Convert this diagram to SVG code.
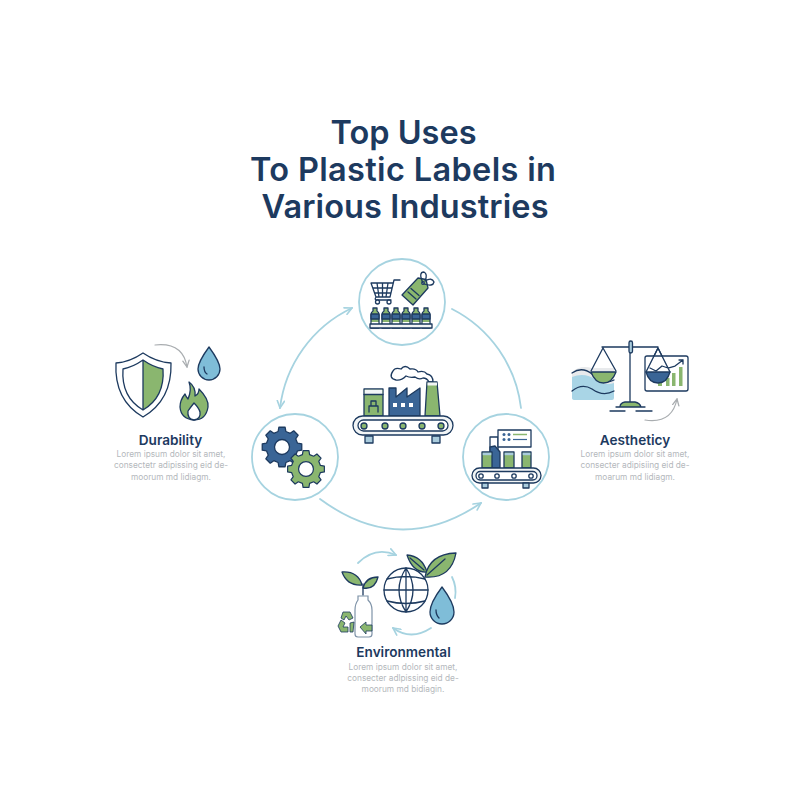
<svg xmlns="http://www.w3.org/2000/svg" width="800" height="800" viewBox="0 0 800 800">
<style>
.t{font-family:"Inter","Liberation Sans",sans-serif;font-weight:600;fill:#1d3a5f;text-anchor:middle}
.title{font-size:32.500px}
.h{font-size:13.600px}
.b{font-family:"Inter","Liberation Sans",sans-serif;font-size:8.300px;fill:#b4b8bc;text-anchor:middle}
.ring{fill:#fff;stroke:#a6d3e0;stroke-width:1.8}
.o{stroke:#1d3a5f;stroke-width:1.3;stroke-linejoin:round;stroke-linecap:round}
.n{fill:none}.w{fill:#fff}.g{fill:#8ab66f}.bl{fill:#3a6596}.p{fill:#a9cbdc}.d{fill:#7fbdd8}.f{fill:#f2f5f6}
.c{fill:none;stroke:#a6d3e0;stroke-width:1.8;stroke-linecap:round}
.gr{fill:none;stroke:#a9adb0;stroke-width:1.2;stroke-linecap:round}
</style>
<defs>
<marker id="a" viewBox="0 0 10 10" refX="9" refY="5" markerWidth="9" markerHeight="9" markerUnits="userSpaceOnUse" orient="auto-start-reverse"><path d="M1 1L9 5L1 9" fill="none" stroke="#a6d3e0" stroke-width="1.8" stroke-linecap="round"/></marker>
<marker id="ag" viewBox="0 0 10 10" refX="9" refY="5" markerWidth="8" markerHeight="8" markerUnits="userSpaceOnUse" orient="auto"><path d="M1 1L9 5L1 9" fill="none" stroke="#a9adb0" stroke-width="1.6" stroke-linecap="round"/></marker>
<path id="gear" d="M15.5-3.87L19.75-3.13L19.75 3.13L15.5 3.87L13.7 8.22L16.18 11.75L11.75 16.18L8.22 13.7L3.87 15.5L3.13 19.75L-3.13 19.75L-3.87 15.5L-8.22 13.7L-11.75 16.18L-16.18 11.75L-13.7 8.22L-15.5 3.87L-19.75 3.13L-19.75-3.13L-15.5-3.87L-13.7-8.22L-16.18-11.75L-11.75-16.18L-8.22-13.7L-3.87-15.5L-3.13-19.75L3.13-19.75L3.87-15.5L8.22-13.7L11.75-16.18L16.18-11.75L13.7-8.22Z"/>
<g id="bottle"><path class="o g" d="M-4 16V3Q-4 0-2 -1V-4H2V-1Q4 0 4 3V16Z"/><rect class="o bl" x="-4" y="2" width="8" height="5"/><rect class="w" x="-3.300" y="10" width="6.600" height="5.300"/></g>
</defs>

<g id="title">
<text class="t title" x="403.500" y="144">Top Uses</text>
<text class="t title" x="403" y="181" textLength="306" lengthAdjust="spacing">To Plastic Labels in</text>
<text class="t title" x="405" y="218" textLength="287" lengthAdjust="spacing">Various Industries</text>
</g>

<g id="connectors">
<path class="c" d="M280 408A128 128 0 0 1 352 308" marker-start="url(#a)" marker-end="url(#a)"/>
<path class="c" d="M452 309A128 128 0 0 1 521 408"/>
<path class="c" d="M320 499Q400 558 481 503" marker-end="url(#a)"/>
</g>

<g id="node-top">
<circle class="ring" cx="402" cy="302" r="43"/>
<path class="o n" d="M400 280H394L390 297H376L371 283H393M373 288H391.500M375 293H390.500M377 283L379 297M382.500 283V297M388 283L386 297M376 297Q374 300 377 300H391"/>
<circle class="o w" cx="377.500" cy="302" r="2"/><circle class="o w" cx="389" cy="302" r="2"/>
<path class="o g" d="M402 295L418 278L426 279.500L428 288L413 305Z"/>
<path class="o n" d="M408 292L416 299M411 288.500L419 295.500" stroke-width="1"/>
<circle class="o w" cx="423" cy="283" r="1.300"/>
<path class="o n" d="M423 283Q418 272 424 272Q428 274 425 281Q432 277 434 282Q433 287 424 284"/>
<use href="#bottle" x="375" y="312"/><use href="#bottle" x="386" y="312"/><use href="#bottle" x="396" y="312"/><use href="#bottle" x="406" y="312"/><use href="#bottle" x="416" y="312"/><use href="#bottle" x="426" y="312"/>
<rect class="o f" x="370" y="324" width="62" height="4"/>
</g>

<g id="node-center">
<path class="o w" stroke-width="1" d="M396 380Q388 378 393 371Q395 367 401 369Q405 364 410 369Q416 368 418 372Q424 370 427 374Q433 375 433 382H429Q427 378 423 378Q419 380 415 377Q410 378 406 376Q401 381 396 380Z"/>
<rect class="o g" x="364" y="389" width="19" height="27"/>
<rect class="f" x="364.700" y="389.700" width="17.600" height="4.500"/>
<path class="o n" d="M364 394.500H383"/>
<path class="o n" d="M371 406V401H376V406M369 406H378V412M369 406V412" stroke-width="1"/>
<path class="o bl" d="M389 416V388L396 388V397L407 388V397L420 388V416Z"/>
<rect class="w" x="393" y="403" width="4" height="4"/><rect class="w" x="401" y="403" width="4" height="4"/><rect class="w" x="409" y="403" width="4" height="4"/>
<path class="o g" d="M427 382H437L440 416H425Z"/>
<rect class="f" x="427.500" y="382.500" width="9.500" height="3"/>
<rect class="o f" x="353" y="416" width="100" height="19" rx="9.500"/>
<rect class="o w" x="358" y="420" width="90" height="11" rx="5.500"/>
<circle class="o g" cx="364" cy="426" r="3"/><circle class="o g" cx="385" cy="426" r="3"/><circle class="o g" cx="403" cy="426" r="3"/><circle class="o g" cx="422" cy="426" r="3"/><circle class="o g" cx="441" cy="426" r="3"/>
<rect class="o p" x="365" y="436" width="8" height="7" stroke-width="1"/><rect class="o p" x="432" y="436" width="8" height="7" stroke-width="1"/>
</g>

<g id="node-left">
<circle class="ring" cx="295" cy="457" r="43"/>
<g transform="translate(282 447)"><use href="#gear" class="o bl"/><circle class="o w" r="7.500"/></g>
<g transform="translate(306 469) scale(.93)"><use href="#gear" class="o g"/><circle class="o w" r="8"/></g>
</g>

<g id="node-right">
<circle class="ring" cx="506" cy="457" r="43"/>
<path class="o w" d="M490 468V437H498V468Z"/>
<path class="o bl" d="M490 468V447L495 446L500 452V468Z"/>
<rect class="o g" x="482" y="452" width="10" height="16"/><rect class="o g" x="504" y="452" width="10" height="16"/><rect class="o g" x="522" y="452" width="9" height="16"/>
<rect class="p" x="482.700" y="452.700" width="8.600" height="2.500"/><rect class="p" x="504.700" y="452.700" width="8.600" height="2.500"/><rect class="p" x="522.700" y="452.700" width="7.600" height="2.500"/>
<rect class="o w" x="498" y="430" width="33" height="17"/>
<g fill="#3a6596"><circle cx="504" cy="434.500" r="1.500"/><circle cx="509" cy="434.500" r="1.500"/><circle cx="504" cy="439.500" r="1.500"/><circle cx="509" cy="439.500" r="1.500"/></g>
<path d="M513 434.500H527" stroke="#8ab66f" stroke-width="1.500"/><path d="M513 439.500H527" stroke="#3a6596" stroke-width="1.200"/>
<rect class="o f" x="472" y="468" width="69" height="15" rx="7.500"/>
<rect class="o w" x="476" y="471.500" width="61" height="8.500" rx="4.200"/>
<circle class="o w" cx="481" cy="476" r="2.200"/><circle class="o w" cx="497" cy="476" r="2.200"/><circle class="o w" cx="514" cy="476" r="2.200"/><circle class="o w" cx="531" cy="476" r="2.200"/>
<rect class="o p" x="482" y="483" width="6" height="5" stroke-width="1"/><rect class="o p" x="523" y="483" width="6" height="5" stroke-width="1"/>
</g>

<g id="node-durability">
<path class="o w" d="M143 353Q130 362 116 363Q114 400 143 417Q172 400 171 363Q156 362 143 353Z"/>
<path class="g" d="M143 360Q153 367 163 369Q165 397 143 410Z"/>
<path class="o n" d="M143 360Q133 367 123 369Q121 397 143 410Q165 397 163 369Q153 367 143 360ZM143 360V410"/>
<path class="gr" d="M155 345Q183 342 187 367" marker-end="url(#ag)"/>
<path class="o d" d="M209 347Q198 362 198 369A11 11 0 0 0 220 369Q220 362 209 347Z"/>
<path class="o n" d="M204 367Q204 372 207 374" stroke-width="1"/>
<path class="o g" d="M189 382Q196 387 195 396Q199 394 199 389Q209 399 208 407Q206 420 194 420Q181 419 180 407Q180 400 185 394Q186 397 188 399Q192 390 189 382Z"/>
<path class="o w" d="M194 403Q190 408 188 411Q187 419 194 420Q201 419 200 412Q199 408 194 403Z"/>
<text class="t h" x="170.500" y="445">Durability</text>
<text class="b" x="171" y="457">Lorem ipsum dolor sit amet,</text>
<text class="b" x="171" y="468">consectetr adipissing eid de-</text>
<text class="b" x="171" y="480">moorum md lidiagm.</text>
</g>

<g id="node-aesthetics">
<path d="M572 372Q580 365 592 368H614V385H572Z" fill="#e8eaec"/>
<path d="M572 377Q585 372 596 380Q605 386 614 383V398Q614 400 612 400H575Q572 400 572 398Z" fill="#a9d5e6"/>
<path class="o n" d="M572 373Q582 366 592 374Q603 386 614 380M572 391Q582 383 592 389Q603 397 614 391"/>
<path class="o n" d="M630 342V402M602 347H658M603 348L591 371M603 348L616 371M658 348L646 372M658 348L670 372"/>
<rect class="o p" x="629" y="341" width="3.500" height="12" rx="1.700"/>
<path class="o g" d="M591 372H616Q612 383 603.500 383Q595 383 591 372Z"/>
<rect class="o w" x="645" y="356" width="43" height="35" rx="2" fill-opacity=".85"/>
<rect class="g" x="658" y="380" width="4" height="6"/><rect class="g" x="666" y="378" width="3.500" height="8"/><rect class="g" x="672" y="373" width="3.500" height="13"/><rect class="g" x="679" y="367" width="3.500" height="19"/>
<path class="o n" d="M658 348L646 372M658 348L670 372M650 368L656 371L662 366L668 368L675 366L683 360M679 360H683V364"/>
<path class="o bl" d="M646 372H670Q667 383 658 383Q649 383 646 372Z"/>
<path class="g" d="M620 407Q620 403 625 402H635Q640 403 641 407Z"/>
<path class="o n" d="M620 407Q620 403 625 402H635Q640 403 641 407M616 407H645M610 411H625M636 411H652"/>
<path class="gr" d="M645 420Q672 424 677 399" marker-end="url(#ag)"/>
<text class="t h" x="635" y="445">Aestheticy</text>
<text class="b" x="635" y="457">Lorem ipsum dolor sit amet,</text>
<text class="b" x="635" y="468">consecter adipisiing eid de-</text>
<text class="b" x="635" y="480">moarum md lidiagm.</text>
</g>

<g id="node-environmental">
<path class="c" d="M358 563Q375 546 396 555" marker-end="url(#a)"/>
<path class="c" d="M452 577Q457 587 455 598"/>
<path class="c" d="M431 628Q411 641 393 628" marker-end="url(#a)"/>
<circle class="o w" cx="406" cy="590" r="22"/>
<path class="o n" d="M384 590H428M387 579Q406 574 425 579M387 601Q406 606 425 601M406 568V612M406 568Q392 590 406 612M406 568Q420 590 406 612"/>
<path class="o g" d="M407 555Q422 556 427 572Q413 573 407 555Z"/>
<path class="o g" d="M425 577Q429 554 456 553Q451 579 425 577Z"/>
<path class="o n" d="M427 575L445 559M410 558L424 570" stroke-width="1"/>
<path class="o d" d="M442 587Q430 603 430 612A12 12 0 0 0 454 612Q454 603 442 587Z"/>
<path class="o n" d="M436 610Q436 615 439 618" stroke-width="1"/>
<path class="o n" d="M363 595V584"/>
<path class="o g" d="M342 572Q358 571 362 585Q347 586 342 572Z"/>
<path class="o g" d="M378 577Q366 577 363 588Q375 590 378 577Z"/>
<path d="M358 600V596H368V600Q372 604 372 610V634Q372 637 369 637H358Q355 637 355 634V610Q355 604 358 600Z" fill="#fff" stroke="#7f93a8" stroke-width="1.200"/>
<path class="g" d="M360 627L366 622V625H372V631H366V634Z" stroke="#1d3a5f" stroke-width=".8"/>
<path class="g" stroke="#1d3a5f" stroke-width=".8" d="M343 612H350L353 618L349 620L346 616L344 620L341 618ZM338 626L341 620L345 623L343 627H348V632H341ZM350 623L354 622L353 632H350V628Z"/>
<text class="t h" x="403.500" y="657">Environmental</text>
<text class="b" x="403" y="670">Lorem ipsum dolor sit amet,</text>
<text class="b" x="403" y="681">consecter adlpissing eid de-</text>
<text class="b" x="403" y="692">moorum md bidiagin.</text>
</g>
</svg>
